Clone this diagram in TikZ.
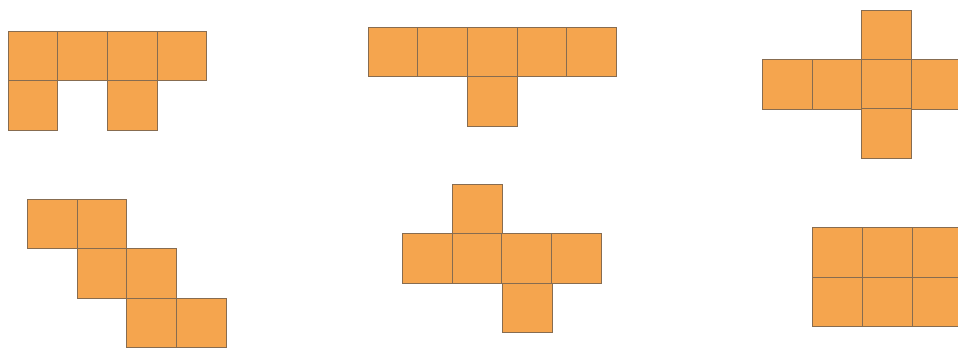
\documentclass[tikz,border=0pt]{standalone}
\definecolor{tilefill}{RGB}{245,165,78}
\definecolor{tileedge}{RGB}{135,108,80}
\begin{document}
\begin{tikzpicture}[x=1pt,y=-1pt,
  tile/.style={fill=tilefill,draw=tileedge,line width=0.9pt}]
\useasboundingbox (0,0) rectangle (958,349);
\clip (0,0) rectangle (958,349);
\def\s{49.7}
\newcommand\tsq[2]{\draw[tile] (#1,#2) rectangle ++(\s,\s);}
% shape 1
\foreach \i in {0,1,2,3} {\tsq{8+\i*\s}{31}}
\tsq{8}{80.7}
\tsq{107.4}{80.7}
% shape 2
\foreach \i in {0,1,2,3,4} {\tsq{368+\i*\s}{27}}
\tsq{467.4}{76.7}
% shape 3
\tsq{861.7}{10}
\foreach \i in {0,1,2,3} {\tsq{762.5+\i*\s}{59.3}}
\tsq{861.7}{108.7}
% shape 4
\tsq{27.5}{199}
\tsq{77.2}{199}
\tsq{77.2}{248.7}
\tsq{126.9}{248.7}
\tsq{126.9}{298.2}
\tsq{176.6}{298.2}
% shape 5
\tsq{452.6}{184}
\foreach \i in {0,1,2,3} {\tsq{402.5+\i*\s}{233.6}}
\tsq{502.3}{283.2}
% shape 6
\foreach \i in {0,1,2} {\tsq{812.7+\i*\s}{227.5} \tsq{812.7+\i*\s}{277.2}}
\end{tikzpicture}
\end{document}
